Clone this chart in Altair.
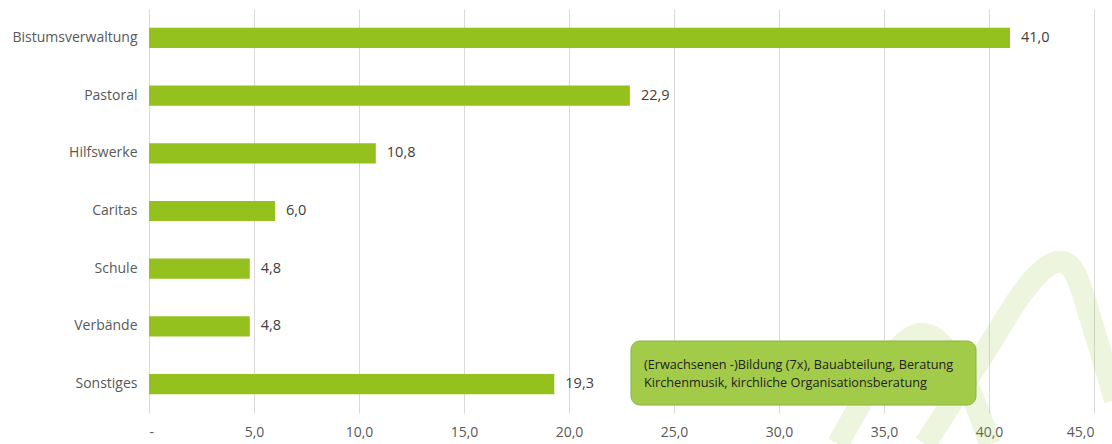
import altair as alt
import pandas as pd

categories = ["Bistumsverwaltung", "Pastoral", "Hilfswerke", "Caritas", "Schule", "Verbände", "Sonstiges"]
values = [41.0, 22.9, 10.8, 6.0, 4.8, 4.8, 19.3]
labels = ["41,0", "22,9", "10,8", "6,0", "4,8", "4,8", "19,3"]
x_ticks = [0, 5, 10, 15, 20, 25, 30, 35, 40, 45]

note_lines = [
    "(Erwachsenen -)Bildung (7x), Bauabteilung, Beratung",
    "Kirchenmusik, kirchliche Organisationsberatung",
]

# background decoration (two light arches), in plot-pixel units
arch_group = ["big"] * 10 + ["small"] * 8
arch_x = [776, 811, 841, 867, 891, 911, 926, 936, 951, 966,
          689, 716, 741, 766, 786, 806, 826, 841]
arch_y = [435, 381, 336, 291, 261, 249, 259, 291, 341, 391,
          435, 386, 346, 322, 326, 351, 391, 435]
arch_order = list(range(10)) + list(range(8))

# annotation box (plot-pixel units)
box_x, box_x2, box_y, box_y2 = [482], [827], [332], [396]
note_x = [495, 495]
note_y = [356, 374]

W, H = 945, 404
FONT = "Open Sans"

df = pd.DataFrame({"cat": categories, "val": values, "lab": labels})
deco_df = pd.DataFrame({"g": arch_group, "px": arch_x, "py": arch_y, "o": arch_order})
box_df = pd.DataFrame({"x": box_x, "x2": box_x2, "y": box_y, "y2": box_y2})
note_df = pd.DataFrame({"x": note_x, "y": note_y, "t": note_lines})

px_scale = alt.Scale(domain=[0, W])
py_scale = alt.Scale(domain=[0, H], reverse=True)
band = alt.Scale(paddingInner=0.65, paddingOuter=0.325)
xs = alt.Scale(domain=[0, 45], nice=False)

y_enc = alt.Y("cat:N", sort=categories, title=None, scale=band,
              axis=alt.Axis(labelFont=FONT, labelFontSize=14, labelColor="#595959",
                            labelPadding=12, ticks=False, domain=False, grid=False))
x_enc = alt.X("val:Q", title=None, scale=xs,
              axis=alt.Axis(values=x_ticks, labelFont=FONT, labelFontSize=14,
                            labelColor="#595959", labelPadding=12, ticks=False,
                            domain=False, grid=True, gridColor="#D9D9D9",
                            labelExpr="datum.value == 0 ? '-' : replace(format(datum.value, '.1f'), '.', ',')"))

bars = alt.Chart(df).mark_bar(color="#95C11F").encode(x=x_enc, y=y_enc)
vals = alt.Chart(df).mark_text(align="left", baseline="middle", dx=11,
                               font=FONT, fontSize=14.5, color="#404040").encode(
    x=alt.X("val:Q", scale=xs, title=None),
    y=alt.Y("cat:N", sort=categories, scale=band, title=None),
    text="lab:N")
main = alt.layer(bars, vals)

deco = alt.Chart(deco_df).mark_line(strokeWidth=22, interpolate="basis",
                                    color="#9BC53D", opacity=0.17, strokeCap="butt").encode(
    x=alt.X("px:Q", scale=px_scale, axis=None),
    y=alt.Y("py:Q", scale=py_scale, axis=None),
    detail="g:N", order="o:Q")
shadow = alt.Chart(box_df).mark_rect(cornerRadius=9, color="#000000", opacity=0.22).encode(
    x=alt.X("x:Q", scale=px_scale, axis=None), x2="x2:Q",
    y=alt.Y("y:Q", scale=py_scale, axis=None), y2="y2:Q",
    xOffset=alt.value(2), yOffset=alt.value(3))
box = alt.Chart(box_df).mark_rect(cornerRadius=9, fill="#A3CB4A", stroke="#8AB53A",
                                  strokeWidth=1).encode(
    x=alt.X("x:Q", scale=px_scale, axis=None), x2="x2:Q",
    y=alt.Y("y:Q", scale=py_scale, axis=None), y2="y2:Q")
note = alt.Chart(note_df).mark_text(align="left", baseline="middle", font=FONT,
                                    fontSize=12.7, color="#1F1F1F").encode(
    x=alt.X("x:Q", scale=px_scale, axis=None),
    y=alt.Y("y:Q", scale=py_scale, axis=None),
    text="t:N")

back = alt.layer(deco)
front = alt.layer(shadow, box, note)

chart = alt.layer(back, main, front).resolve_scale(x="independent", y="independent").properties(
    width=W, height=H,
    autosize=alt.AutoSizeParams(type="none"),
    padding={"left": 149, "top": 9, "right": 18, "bottom": 31},
    background="white",
).configure_view(stroke=None)

chart.save("out.html", embed_options={"renderer": "svg", "actions": False})
